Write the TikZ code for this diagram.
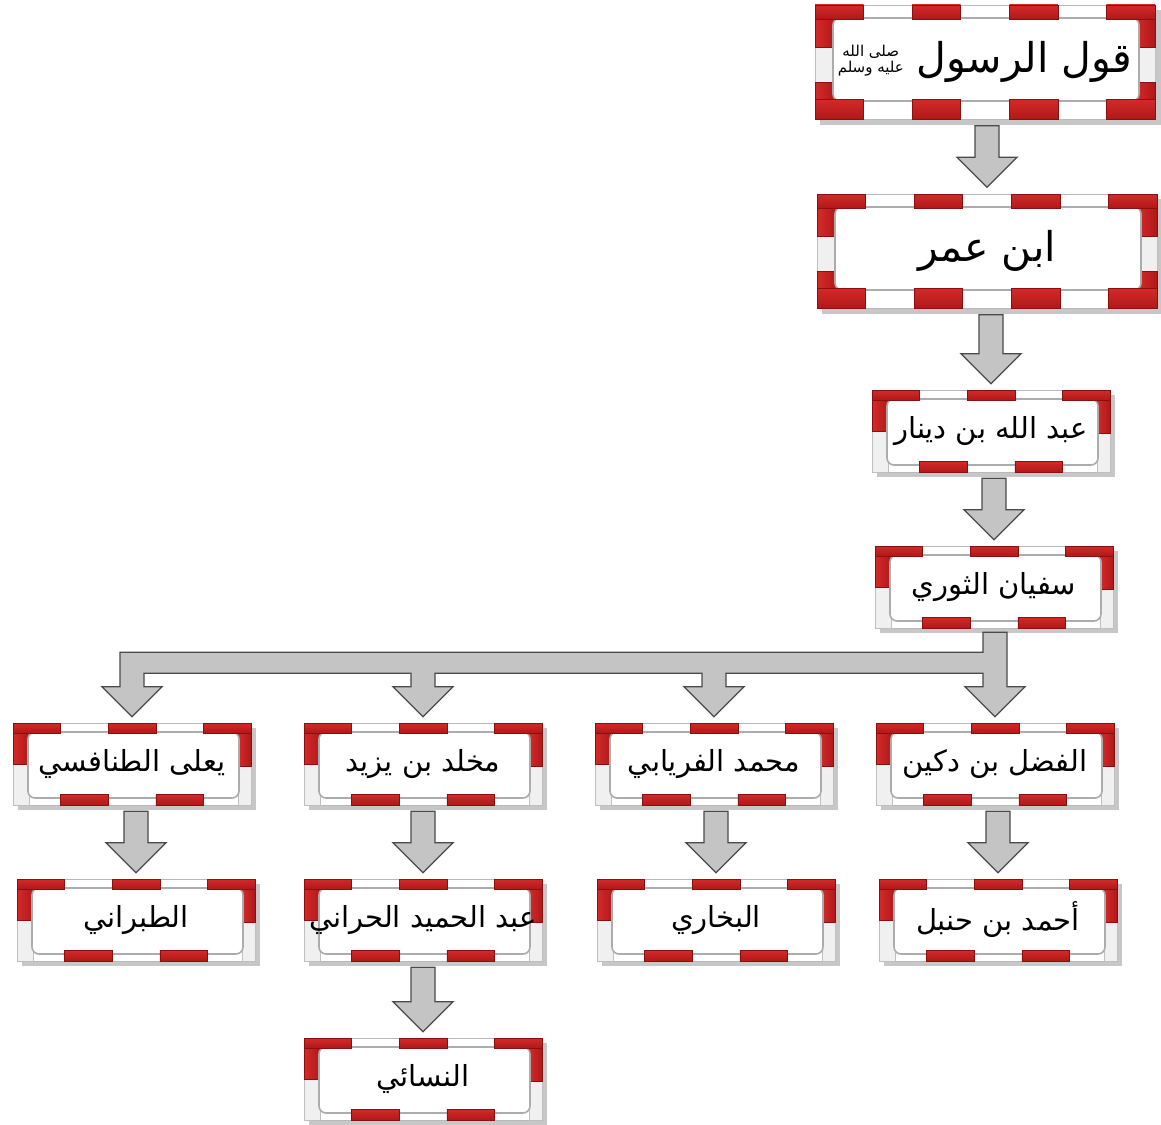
\documentclass[tikz,border=0pt]{standalone}
\usepackage{fontspec}
\newfontfamily\arabicfont[Script=Arabic]{DejaVu Sans}
\TeXXeTstate=1
\usetikzlibrary{calc}
\definecolor{redA}{HTML}{D42A2A}
\definecolor{redB}{HTML}{F68A8A}
\definecolor{redC}{HTML}{B01818}
\definecolor{redO}{HTML}{8A1010}
\definecolor{arrowfill}{HTML}{C4C4C4}
\definecolor{arrowline}{HTML}{4A4A4A}
\tikzset{
 redh/.style={top color=redA, middle color=redB, bottom color=redC, draw=redO, line width=0.5},
 redv/.style={left color=redA, middle color=redB, right color=redC, draw=redO, line width=0.5},
 framebase/.style={fill=white, draw=gray!55, line width=0.6},
 innerbox/.style={fill=white, draw=gray!65, line width=1.6, rounded corners=7},
 shadowbox/.style={fill=black, opacity=0.22},
 lowside/.style={fill=gray!12, draw=gray!50, line width=0.5},
 blockarrow/.style={fill=arrowfill, draw=arrowline, line width=1.3, line join=miter},
 smalltext/.style={font=\arabicfont\fontsize{29}{33}\selectfont, inner sep=0pt, minimum width=238pt, minimum height=82pt},
 bigtext/.style={font=\arabicfont\fontsize{41}{45}\selectfont, inner sep=0pt, minimum width=340pt, minimum height=115pt}
}
\newcommand\smallbox[4]{%
 \begin{scope}[shift={(#2,#3)}]
  \fill[shadowbox] (-114,-36) rectangle (124,46);
  \draw[framebase] (-119,-41) rectangle (119,41);
  \draw[lowside] (-119,0) rectangle (-103,41);
  \draw[lowside] (106,2) rectangle (119,41);
  \draw[redv] (-119,-41) rectangle (-103,0);
  \draw[redv] (106,-41) rectangle (119,2);
  \draw[innerbox] (-104,-32) rectangle (107,34);
  \draw[redh] (-119,-41) rectangle (-71.4,-31);
  \draw[redh] (-23.8,-41) rectangle (23.8,-31);
  \draw[redh] (71.4,-41) rectangle (119,-31);
  \draw[redh] (-71.4,30) rectangle (-23.8,41);
  \draw[redh] (23.8,30) rectangle (71.4,41);
  \node[smalltext] (#1) at (0,0) {#4};
 \end{scope}}
\newcommand\bigbox[4]{%
 \begin{scope}[shift={(#2,#3)}]
  \fill[shadowbox] (-165,-52) rectangle (176,63);
  \draw[framebase] (-170,-57) rectangle (170,57);
  \draw[lowside] (-170,-15) rectangle (-150,20);
  \draw[lowside] (150,-15) rectangle (170,20);
  \draw[redv] (-170,-57) rectangle (-150,-15);
  \draw[redv] (-170,20) rectangle (-150,57);
  \draw[redv] (150,-57) rectangle (170,-15);
  \draw[redv] (150,20) rectangle (170,57);
  \draw[innerbox] (-152,-44) rectangle (154,39);
  \foreach \k in {0,2,4,6} {
   \draw[redh] ({-170+\k*48.571},-57) rectangle ({-170+(\k+1)*48.571},-43);
   \draw[redh] ({-170+\k*48.571},37) rectangle ({-170+(\k+1)*48.571},57);
  }
  \node[bigtext] (#1) at (0,0) {#4};
 \end{scope}}
\newcommand\blockarrow[2]{%
 \path[blockarrow] ($(#2.north |- #1.south)+(-12,6)$) -- ($(#2.north |- #1.south)+(12,6)$)
  -- ($(#2.north)+(12,-36)$) -- ($(#2.north)+(30,-36)$) -- ($(#2.north)+(0,-6)$)
  -- ($(#2.north)+(-30,-36)$) -- ($(#2.north)+(-12,-36)$) -- cycle;}
\newcommand\headat[1]{%
  -- ($(#1.north)+(12,-36)$) -- ($(#1.north)+(30,-36)$) -- ($(#1.north)+(0,-6)$)
  -- ($(#1.north)+(-30,-36)$) -- ($(#1.north)+(-12,-36)$)}
\newcommand\salla{\raisebox{0pt}{\fontsize{15}{16}\selectfont\shortstack{\beginR صلى الله\endR\\\beginR عليه وسلم\endR}}}
\begin{document}
\begin{tikzpicture}[x=1pt,y=-1pt]
\useasboundingbox (0,0) rectangle (1161,1124);
\bigbox{qawl}{985}{62}{\beginR قول الرسول \salla\endR}
\bigbox{ibnumar}{987}{251}{\beginR ابن عمر\endR}
\smallbox{abd}{991}{431}{\beginR عبد الله بن دينار\endR}
\smallbox{sufyan}{994}{587}{\beginR سفيان الثوري\endR}
\smallbox{yala}{132}{764}{\beginR يعلى الطنافسي\endR}
\smallbox{makhlad}{423}{764}{\beginR مخلد بن يزيد\endR}
\smallbox{muhammad}{714}{764}{\beginR محمد الفريابي\endR}
\smallbox{fadl}{995}{764}{\beginR الفضل بن دكين\endR}
\smallbox{tabarani}{136}{920}{\beginR الطبراني\endR}
\smallbox{abdhamid}{423}{920}{\beginR عبد الحميد الحراني\endR}
\smallbox{bukhari}{716}{920}{\beginR البخاري\endR}
\smallbox{ahmad}{998}{920}{\beginR أحمد بن حنبل\endR}
\smallbox{nasai}{423}{1079}{\beginR النسائي\endR}
\blockarrow{qawl}{ibnumar}
\blockarrow{ibnumar}{abd}
\blockarrow{abd}{sufyan}
\blockarrow{yala}{tabarani}
\blockarrow{makhlad}{abdhamid}
\blockarrow{abdhamid}{nasai}
\blockarrow{muhammad}{bukhari}
\blockarrow{fadl}{ahmad}
\path[blockarrow]
 ($(fadl.north |- sufyan.south)+(-12,4)$) -- ($(fadl.north |- sufyan.south)+(12,4)$)
 \headat{fadl}
 -- ($(fadl.north |- sufyan.south)+(-12,45)$)
 -- ($(muhammad.north |- sufyan.south)+(12,45)$) \headat{muhammad} -- ($(muhammad.north |- sufyan.south)+(-12,45)$)
 -- ($(makhlad.north |- sufyan.south)+(12,45)$) \headat{makhlad} -- ($(makhlad.north |- sufyan.south)+(-12,45)$)
 -- ($(yala.north |- sufyan.south)+(12,45)$) \headat{yala}
 -- ($(yala.north |- sufyan.south)+(-12,24)$) -- ($(fadl.north |- sufyan.south)+(-12,24)$) -- cycle;
\end{tikzpicture}
\end{document}
